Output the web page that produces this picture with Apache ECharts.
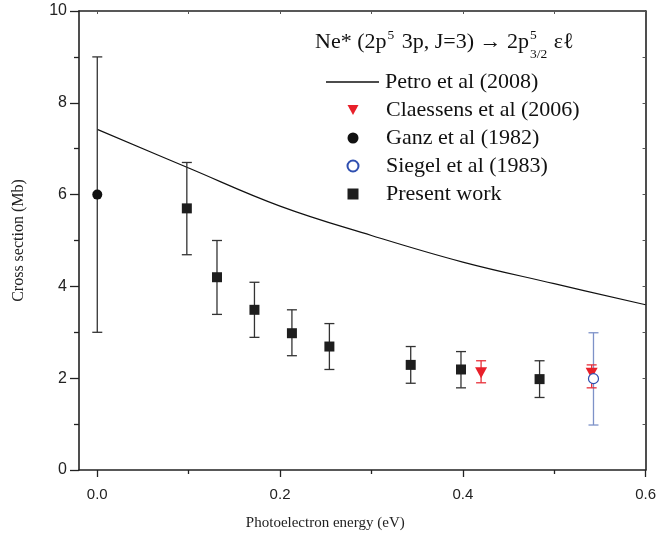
<!DOCTYPE html>
<html>
<head>
<meta charset="utf-8">
<script src="https://cdn.jsdelivr.net/npm/echarts@6/dist/echarts.min.js"></script>
<style>html,body{margin:0;padding:0;background:#fff;}#c{width:659px;height:539px;}</style>
</head>
<body>
<div id="c"></div>
<script>
// ---- data ----
const xTickLabels = [0.0, 0.2, 0.4, 0.6];
const xMinorTicks = [0.1, 0.3, 0.5];
const xTopTicks = [0.0, 0.1, 0.2, 0.3, 0.4, 0.5, 0.6];
const yRightTicks = [0,1,2,3,4,5,6,7,8,9,10];

const petroX = [0.0, 0.1, 0.2, 0.3, 0.4, 0.5, 0.6];
const petroY = [7.42, 6.58, 5.75, 5.11, 4.53, 4.06, 3.6];

const claessensX = [0.420, 0.541];
const claessensY = [2.12, 2.11];
const claessensLo = [1.90, 1.79];
const claessensHi = [2.38, 2.29];

const ganzX = [0.0];
const ganzY = [6.0];
const ganzLo = [3.0];
const ganzHi = [9.0];

const siegelX = [0.543];
const siegelY = [1.99];
const siegelLo = [0.98];
const siegelHi = [2.99];

const presentX = [0.098, 0.131, 0.172, 0.213, 0.254, 0.343, 0.398, 0.484];
const presentY = [5.70, 4.20, 3.49, 2.98, 2.69, 2.29, 2.19, 1.98];
const presentLo = [4.69, 3.39, 2.89, 2.49, 2.19, 1.89, 1.79, 1.58];
const presentHi = [6.70, 5.00, 4.09, 3.49, 3.19, 2.69, 2.58, 2.38];

// ---- helpers ----
const SERIF = '"Liberation Serif", "Times New Roman", serif';
const SANS = '"Liberation Sans", Arial, sans-serif';
const zip2 = (a, b) => a.map((v, i) => [v, b[i]]);
const zip3 = (a, b, c) => a.map((v, i) => [v, b[i], c[i]]);

function errBar(color) {
  return function (params, api) {
    const x = api.value(0);
    const lo = api.coord([x, api.value(1)]);
    const hi = api.coord([x, api.value(2)]);
    const h = 5;
    const st = { stroke: color, lineWidth: 1.3 };
    return {
      type: 'group',
      children: [
        { type: 'line', shape: { x1: lo[0], y1: lo[1], x2: hi[0], y2: hi[1] }, style: st },
        { type: 'line', shape: { x1: lo[0] - h, y1: lo[1], x2: lo[0] + h, y2: lo[1] }, style: st },
        { type: 'line', shape: { x1: hi[0] - h, y1: hi[1], x2: hi[0] + h, y2: hi[1] }, style: st }
      ]
    };
  };
}

// title pieces measured with canvas
const mctx = document.createElement('canvas').getContext('2d');
function tw(t, size) { mctx.font = size + 'px ' + SERIF; return mctx.measureText(t).width; }
const TF = 22, SF = 13.5;
const tx0 = 315, tbase = 51;
const p1 = 'Ne* (2p', p2 = ' 3p, J=3) \u2192 2p', p3 = ' \u03b5\u2113';
const w1 = tw(p1, TF), ws = tw('5', SF), w2 = tw(p2, TF), wsub = tw('3/2', SF);
const xs1 = tx0 + w1 + 1;
const x2 = xs1 + ws + 2;
const xs2 = x2 + w2 + 1;
const x3 = xs2 + Math.max(ws, wsub) + 1;

const chart = echarts.init(document.getElementById('c'), null, { renderer: 'canvas' });
const axisColor = '#222';

chart.setOption({
  backgroundColor: '#fff',
  animation: false,
  grid: { left: 79, right: 13, top: 11, bottom: 69 },
  xAxis: [
    {
      type: 'value', min: -0.02, max: 0.6, position: 'bottom',
      name: 'Photoelectron energy (eV)', nameLocation: 'middle', nameGap: 46,
      nameTextStyle: { fontFamily: SERIF, fontSize: 15, color: '#222', padding: [0, 74, 0, 0] },
      axisLine: { show: true, onZero: false, lineStyle: { color: axisColor, width: 1.6 } },
      axisTick: { show: true, inside: false, length: 7, customValues: xTickLabels, lineStyle: { color: axisColor, width: 1.3 } },
      axisLabel: { show: true, customValues: xTickLabels, margin: 17, fontFamily: SANS, fontSize: 15, color: '#222',
        formatter: v => Number(v).toFixed(1) },
      splitLine: { show: false }
    },
    {
      type: 'value', min: -0.02, max: 0.6, position: 'bottom',
      axisLine: { show: false, onZero: false },
      axisTick: { show: true, inside: false, length: 4, customValues: xMinorTicks, lineStyle: { color: axisColor, width: 1.3 } },
      axisLabel: { show: false },
      splitLine: { show: false }
    },
    {
      type: 'value', min: -0.02, max: 0.6, position: 'top',
      axisLine: { show: true, onZero: false, lineStyle: { color: axisColor, width: 1.6 } },
      axisTick: { show: true, inside: true, length: 3, customValues: xTopTicks, lineStyle: { color: '#555', width: 1 } },
      axisLabel: { show: false },
      splitLine: { show: false }
    }
  ],
  yAxis: [
    {
      type: 'value', min: 0, max: 10, interval: 2, position: 'left',
      name: 'Cross section (Mb)', nameLocation: 'middle', nameGap: 52, nameRotate: 90,
      nameTextStyle: { fontFamily: SERIF, fontSize: 16, color: '#222' },
      axisLine: { show: true, onZero: false, lineStyle: { color: axisColor, width: 1.6 } },
      axisTick: { show: true, inside: false, length: 9, lineStyle: { color: axisColor, width: 1.3 } },
      minorTick: { show: true, splitNumber: 2, length: 5, lineStyle: { color: axisColor, width: 1.3 } },
      axisLabel: { margin: 12, fontFamily: SANS, fontSize: 16, color: '#222' },
      splitLine: { show: false }
    },
    {
      type: 'value', min: 0, max: 10, position: 'right',
      axisLine: { show: true, onZero: false, lineStyle: { color: axisColor, width: 1.6 } },
      axisTick: { show: true, inside: true, length: 3, customValues: yRightTicks, lineStyle: { color: '#555', width: 1 } },
      axisLabel: { show: false },
      splitLine: { show: false }
    }
  ],
  legend: [
    {
      data: [{ name: 'Petro et al (2008)', icon: 'rect', itemStyle: { color: '#111' } }],
      orient: 'vertical', left: 321, top: 63,
      itemWidth: 53, itemHeight: 1.3, itemGap: 0,
      textStyle: { fontFamily: SERIF, fontSize: 22, color: '#111', lineHeight: 28, padding: [0, 0, 0, 1] },
      selectedMode: false
    },
    {
      data: [
        { name: 'Claessens et al (2006)', icon: 'path://M0,0 L2,0 L1,1.8 Z' },
        'Ganz et al (1982)', 'Siegel et al (1983)', 'Present work'
      ],
      orient: 'vertical', left: 341.5, top: 91,
      itemWidth: 11, itemHeight: 11, itemGap: 0,
      textStyle: { fontFamily: SERIF, fontSize: 22, color: '#111', lineHeight: 28, padding: [0, 0, 0, 22.5] },
      selectedMode: false
    }
  ],
  graphic: [
    { type: 'text', left: tx0, top: tbase - 20, style: { text: p1, font: TF + 'px ' + SERIF, fill: '#111' } },
    { type: 'text', left: xs1, top: tbase - 23, style: { text: '5', font: SF + 'px ' + SERIF, fill: '#111' } },
    { type: 'text', left: x2, top: tbase - 20, style: { text: p2, font: TF + 'px ' + SERIF, fill: '#111' } },
    { type: 'text', left: xs2, top: tbase - 23, style: { text: '5', font: SF + 'px ' + SERIF, fill: '#111' } },
    { type: 'text', left: xs2, top: tbase - 4, style: { text: '3/2', font: SF + 'px ' + SERIF, fill: '#111' } },
    { type: 'text', left: x3, top: tbase - 20, style: { text: p3, font: TF + 'px ' + SERIF, fill: '#111' } }
  ],
  series: [
    {
      name: 'Petro et al (2008)', type: 'line', xAxisIndex: 0, yAxisIndex: 0,
      data: zip2(petroX, petroY), smooth: 0.4, symbol: 'none', showSymbol: false,
      lineStyle: { color: '#111', width: 1.2 }, itemStyle: { color: '#111' }, z: 2
    },
    {
      name: 'present_err', type: 'custom', xAxisIndex: 0, yAxisIndex: 0,
      data: zip3(presentX, presentLo, presentHi), renderItem: errBar('#333'), z: 3, silent: true
    },
    {
      name: 'ganz_err', type: 'custom', xAxisIndex: 0, yAxisIndex: 0,
      data: zip3(ganzX, ganzLo, ganzHi), renderItem: errBar('#333'), z: 3, silent: true
    },
    {
      name: 'siegel_err', type: 'custom', xAxisIndex: 0, yAxisIndex: 0,
      data: zip3(siegelX, siegelLo, siegelHi), renderItem: errBar('#7d92c8'), z: 3, silent: true
    },
    {
      name: 'claessens_err', type: 'custom', xAxisIndex: 0, yAxisIndex: 0,
      data: zip3(claessensX, claessensLo, claessensHi), renderItem: errBar('#e8303a'), z: 4, silent: true
    },
    {
      name: 'Claessens et al (2006)', type: 'scatter', xAxisIndex: 0, yAxisIndex: 0,
      data: zip2(claessensX, claessensY), symbol: 'triangle', symbolRotate: 180, symbolSize: [12, 11],
      itemStyle: { color: '#e8202a', opacity: 1 }, z: 5
    },
    {
      name: 'Ganz et al (1982)', type: 'scatter', xAxisIndex: 0, yAxisIndex: 0,
      data: zip2(ganzX, ganzY), symbol: 'circle', symbolSize: 10,
      itemStyle: { color: '#111', opacity: 1 }, z: 5
    },
    {
      name: 'Siegel et al (1983)', type: 'scatter', xAxisIndex: 0, yAxisIndex: 0,
      data: zip2(siegelX, siegelY), symbol: 'circle', symbolSize: 10,
      itemStyle: { color: '#fff', borderColor: '#2f4fb0', borderWidth: 1.2, opacity: 1 }, z: 6
    },
    {
      name: 'Present work', type: 'scatter', xAxisIndex: 0, yAxisIndex: 0,
      data: zip2(presentX, presentY), symbol: 'rect', symbolSize: 10,
      itemStyle: { color: '#1e1e1e', opacity: 1 }, z: 5
    }
  ]
});
</script>
</body>
</html>
